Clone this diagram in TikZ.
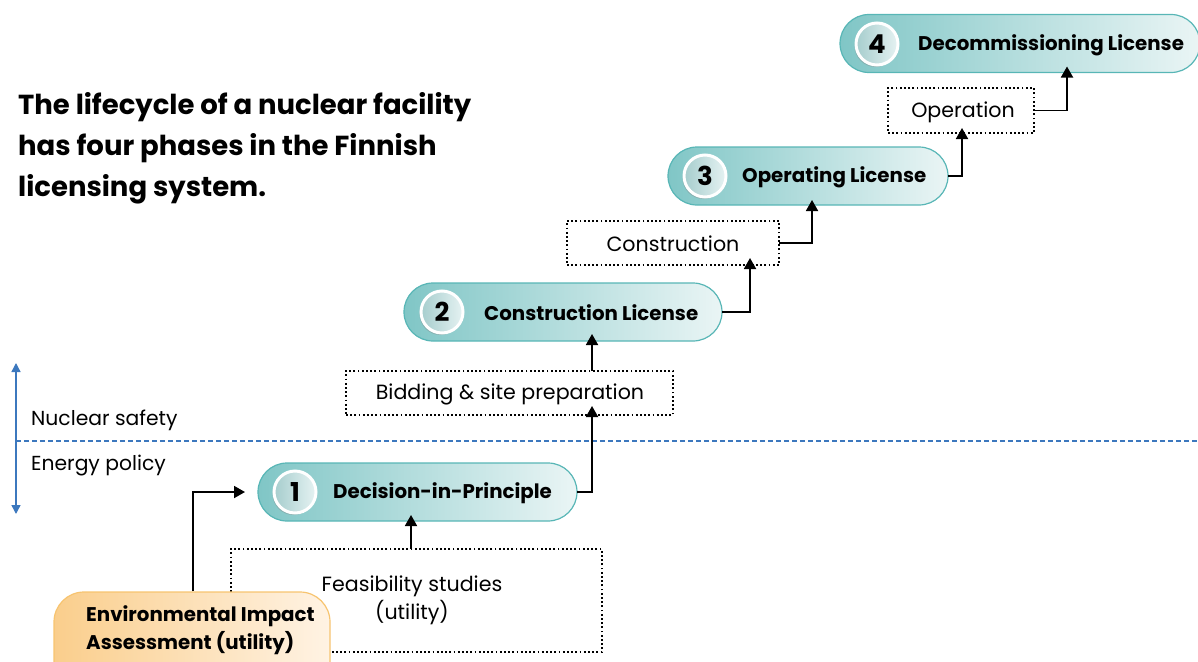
\documentclass[tikz,border=0pt]{standalone}
\usepackage{fontspec}
\setmainfont{Poppins}
\usetikzlibrary{arrows.meta,shadows}
\definecolor{tealedge}{RGB}{88,182,182}
\definecolor{tealdark}{RGB}{128,198,198}
\definecolor{teallight}{RGB}{234,245,245}
\definecolor{orgedge}{RGB}{247,196,112}
\definecolor{orgdark}{RGB}{250,206,140}
\definecolor{orglight}{RGB}{255,243,228}
\definecolor{axisblue}{RGB}{60,120,190}
\tikzset{
  pill/.style={draw=tealedge, line width=1.2pt, rounded corners=29pt,
    left color=tealdark, right color=teallight, inner sep=0pt, outer sep=0pt,
    minimum height=58pt},
  numc/.style={circle, draw=white, line width=3pt, minimum size=42pt, inner sep=0pt,
    left color=tealdark!80!gray!70, right color=white!90!teal,
    drop shadow={shadow xshift=-1.5pt, shadow yshift=-2pt, opacity=0.35},
    font=\fontsize{26}{26}\selectfont\bfseries},
  pilltext/.style={font=\fontsize{19.8}{22}\selectfont\bfseries, anchor=west, inner sep=0pt},
  phase/.style={draw, dash pattern=on 1.8pt off 2.4pt, line width=1.4pt, inner sep=0pt, outer sep=0pt},
  phasetext/.style={font=\fontsize{20.6}{28}\selectfont, align=center, inner sep=0pt},
  flow/.style={line width=1.8pt, -{Triangle[width=12pt,length=11pt]}},
}
\begin{document}
\begin{tikzpicture}[x=1pt,y=-1pt]
\useasboundingbox (0,0) rectangle (1198,661);

% title
\node[anchor=north west, align=left, inner sep=0pt,
  font=\fontsize{27.5}{41}\selectfont\bfseries] (title) at (18,92)
  {The lifecycle of a nuclear facility\\has four phases in the Finnish\\licensing system.};

% nuclear safety / energy policy divide
\coordinate (axtop) at (16,363);
\coordinate (axbot) at (16,514);
\draw[axisblue, line width=1.4pt, {Triangle[width=9pt,length=9pt]}-{Triangle[width=9pt,length=9pt]}] (axtop) -- (axbot);
\coordinate (divl) at (16,441);
\coordinate (divr) at (1198,441);
\draw[axisblue, dash pattern=on 5pt off 3pt, line width=1.2pt] (divl) -- (divr);
\node[anchor=west, inner sep=0pt, font=\fontsize{20.3}{22}\selectfont] (ns) at (31,420) {Nuclear safety};
\node[anchor=west, inner sep=0pt, font=\fontsize{20.3}{22}\selectfont] (ep) at (31,466) {Energy policy};

% licensing steps
\node[pill, minimum width=319pt] (p1) at (417.5,492) {};
\node[numc] (c1) at (295,492) {1};
\node[pilltext] (t1) at (333,493) {Decision-in-Principle};

\node[pill, minimum width=318pt] (p2) at (563,312) {};
\node[numc] (c2) at (442,312) {2};
\node[pilltext] (t2) at (484,313) {Construction License};

\node[pill, minimum width=280pt] (p3) at (808,176) {};
\node[numc] (c3) at (705,176) {3};
\node[pilltext] (t3) at (742,177) {Operating License};

\node[pill, minimum width=360pt] (p4) at (1020,43.5) {};
\node[numc] (c4) at (877,44) {4};
\node[pilltext] (t4) at (918,45) {Decommissioning License};

% phases between licences
\node[phase, minimum width=371pt, minimum height=103pt] (feas) at (416.5,600.5) {};
\node[phasetext] (feast) at (412,600) {Feasibility studies\\(utility)};

\node[phase, minimum width=327pt, minimum height=44pt] (bid) at (509.5,393) {};
\node[phasetext] (bidt) at (510,394) {Bidding \& site preparation};

\node[phase, minimum width=212pt, minimum height=44pt] (cons) at (673,243) {};
\node[phasetext] (const) at (673,244) {Construction};

\node[phase, minimum width=146pt, minimum height=45pt] (oper) at (961,110.5) {};
\node[phasetext] (opert) at (963,112) {Operation};

% environmental impact assessment
\begin{scope}
\clip (0,0) rectangle (1198,661);
\node[draw=orgedge, line width=1.2pt, rounded corners=30pt, left color=orgdark,
  right color=orglight, minimum width=276pt, minimum height=110pt, inner sep=0pt]
  (eia) at (192,647) {};
\end{scope}
\node[anchor=north west, align=left, inner sep=0pt,
  font=\fontsize{19.8}{28}\selectfont\bfseries] (eiat) at (86,605)
  {Environmental Impact\\Assessment (utility)};

% flow connectors
\draw[flow] (eia.north -| 193,0) |- ([xshift=-13pt]p1.west);
\draw[flow] (feas.north -| 411,0) -- ([yshift=6pt]p1.south -| 411,0);
\draw[flow] (p1.east) -| ([yshift=9pt]bid.south -| 592,0);
\draw[flow] (bid.north -| 592,0) -- ([yshift=7pt]p2.south -| 592,0);
\draw[flow] (p2.east) -| ([yshift=7pt]cons.south -| 750,0);
\draw[flow] (cons.east) -| ([yshift=5pt]p3.south -| 812,0);
\draw[flow] (p3.east) -| ([yshift=5pt]oper.south -| 962,0);
\draw[flow] (oper.east) -| ([yshift=6pt]p4.south -| 1067,0);
\end{tikzpicture}
\end{document}
